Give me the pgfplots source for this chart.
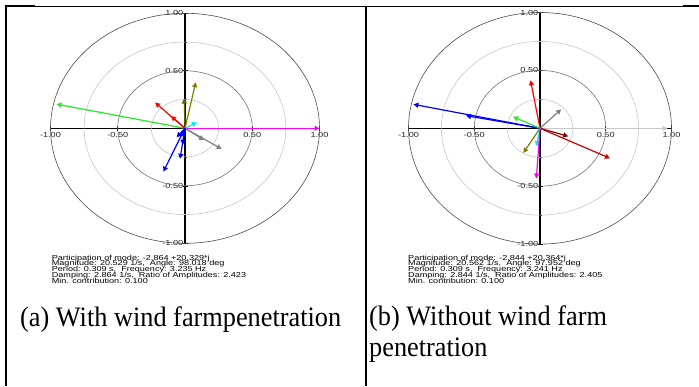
\documentclass[border=0pt]{standalone}
\usepackage{pgfplots}
\pgfplotsset{compat=1.18}
\usetikzlibrary{arrows.meta}
\usepackage{fontspec}
\setmainfont{Liberation Serif}
\newfontfamily\arial{Liberation Sans}
\definecolor{olv}{RGB}{128,128,0}
\definecolor{dolv}{RGB}{100,100,0}
\definecolor{vgreen}{RGB}{40,230,40}
\definecolor{vcyan}{RGB}{0,230,255}
\definecolor{vmag}{RGB}{255,0,255}
\definecolor{vred}{RGB}{255,0,0}
\definecolor{dred}{RGB}{200,0,0}
\definecolor{maroon}{RGB}{128,0,0}
\definecolor{vgray}{RGB}{128,128,128}
\definecolor{lgray}{RGB}{200,200,200}
\definecolor{vblue}{RGB}{0,0,255}
\pgfplotsset{
  phasor/.style={
    axis lines=middle, axis line style={-, black, line width=1.1bp},
    xmin=-1, xmax=1, ymin=-1, ymax=1, clip=false,
    anchor=origin,
    xtick={-1,-0.5,0.5,1}, xticklabels={-1.00,-0.50,0.50,1.00},
    ytick={-1,-0.5,0.5,1}, yticklabels={-1.00,-0.50,0.50,1.00},
    minor ytick={-0.75,-0.25,0.25,0.75},
    tick style={black, line width=0.6bp},
    major tick length=5bp, minor tick length=3bp,
    ticklabel style={font=\arial\fontsize{9.2}{9}\selectfont, text=black!85, yscale=0.8, inner sep=1bp},
    xticklabel style={anchor=north, yshift=-1bp},
    yticklabel style={anchor=east, xshift=2bp},
  },
  vec/.style={line width=1.2bp, -{Triangle[length=5bp,width=5bp]}, mark=none},
}
\newcommand{\rings}[2]{%
  \draw[lgray, line width=0.6bp] (axis cs:0,0) ellipse [x radius=0.25*#1 bp, y radius=0.25*#2 bp];
  \draw[black!55, line width=0.6bp] (axis cs:0,0) ellipse [x radius=0.5*#1 bp, y radius=0.5*#2 bp];
  \draw[lgray, line width=0.6bp] (axis cs:0,0) ellipse [x radius=0.75*#1 bp, y radius=0.75*#2 bp];
  \draw[black!70, line width=0.6bp] (axis cs:0,0) ellipse [x radius=#1 bp, y radius=#2 bp];
}
\newcommand{\infofont}{\arial\fontsize{9.1}{9}\selectfont}
\begin{document}
\begin{tikzpicture}[x=1bp,y=1bp]
\path[use as bounding box] (0,0) rectangle (699,386);
\coordinate (ca) at (185,257.7);
\coordinate (cb) at (540,257.7);
% frame
\draw[line width=1bp] (6,379) -- (699,379);
\draw[line width=2bp] (5,379.5) -- (35,379.5);
\draw[line width=2bp] (683,379.5) -- (699,379.5);
\draw[line width=2bp] (6,380) -- (6,0);
\draw[line width=2bp] (366,379) -- (366,0);

% ---------- panel (a)
\begin{axis}[phasor, x=134.5bp, y=115bp, at={(ca)}]
\rings{134.5}{115}
\addplot[vec, vgreen] coordinates {(0,0) (-0.955,0.21)};
\addplot[vec, vmag] coordinates {(0,0) (1.0,0)};
\addplot[vec, vred] coordinates {(0,0) (-0.223,0.224)};
\addplot[vec, vred] coordinates {(0,0) (-0.104,0.107)};
\addplot[vec, olv] coordinates {(0,0) (0.080,0.401)};
\addplot[vec, dolv] coordinates {(0,0) (-0.006,0.259)};
\addplot[vec, vcyan] coordinates {(0,0) (0.089,0.052)};
\addplot[vec, vgray] coordinates {(0,0) (0.273,-0.180)};
\addplot[vec, vgray] coordinates {(0,0) (0.141,-0.102)};
\addplot[vec, vblue] coordinates {(0,0) (-0.161,-0.377)};
\addplot[vec, vblue] coordinates {(0,0) (-0.037,-0.265)};
\addplot[vec, vblue] coordinates {(0,0) (-0.019,-0.145)};
\addplot[vec, vblue] coordinates {(0,0) (-0.062,-0.078)};
\addplot[vec, vblue] coordinates {(0,0) (-0.025,-0.073)};
\end{axis}

% ---------- panel (b)
\begin{axis}[phasor, x=131.5bp, y=115.8bp, at={(cb)}]
\rings{131.5}{115.8}
\addplot[vec, lgray] coordinates {(0,0) (0.97,0)};
\addplot[vec, vblue] coordinates {(0,0) (-0.963,0.207)};
\addplot[vec, vblue] coordinates {(0,0) (-0.563,0.109)};
\addplot[vec, vred] coordinates {(0,0) (-0.072,0.415)};
\addplot[vec, vgray] coordinates {(0,0) (0.161,0.164)};
\addplot[vec, vgreen] coordinates {(0,0) (-0.205,0.100)};
\addplot[vec, maroon] coordinates {(0,0) (0.215,-0.069)};
\addplot[vec, dred] coordinates {(0,0) (0.532,-0.259)};
\addplot[vec, olv] coordinates {(0,0) (-0.127,-0.213)};
\addplot[vec, vcyan] coordinates {(0,0) (-0.028,-0.153)};
\addplot[vec, vmag] coordinates {(0,0) (-0.028,-0.434)};
\end{axis}

% info text
\begin{scope}[every node/.style={anchor=base west, inner sep=0pt, font=\infofont, yscale=0.8}]
\node at (51.7,125.8) {Participation of mode: -2.864 +20.329*j};
\node at (51.7,120.05) {Magnitude: 20.529 1/s,\ \ Angle: 98.018 deg};
\node at (51.7,114.3) {Period: 0.309 s,\ \ Frequency: 3.235 Hz};
\node at (51.7,108.55) {Damping: 2.864 1/s,\ \ Ratio of Amplitudes: 2.423};
\node at (51.7,102.8) {Min. contribution: 0.100};
\node at (408,125.8) {Participation of mode: -2.844 +20.364*j};
\node at (408,120.05) {Magnitude: 20.562 1/s,\ \ Angle: 97.952 deg};
\node at (408,114.3) {Period: 0.309 s,\ \ Frequency: 3.241 Hz};
\node at (408,108.55) {Damping: 2.844 1/s,\ \ Ratio of Amplitudes: 2.405};
\node at (408,102.8) {Min. contribution: 0.100};
\end{scope}

% captions
\begin{scope}[every node/.style={anchor=base west, inner sep=0pt, font=\fontsize{26.4}{30}\selectfont, yscale=1.07}]
\node at (20,60) {(a) With wind farmpenetration};
\node at (369,61) {(b) Without wind farm};
\node at (369,30) {penetration};
\end{scope}
\end{tikzpicture}
\end{document}
